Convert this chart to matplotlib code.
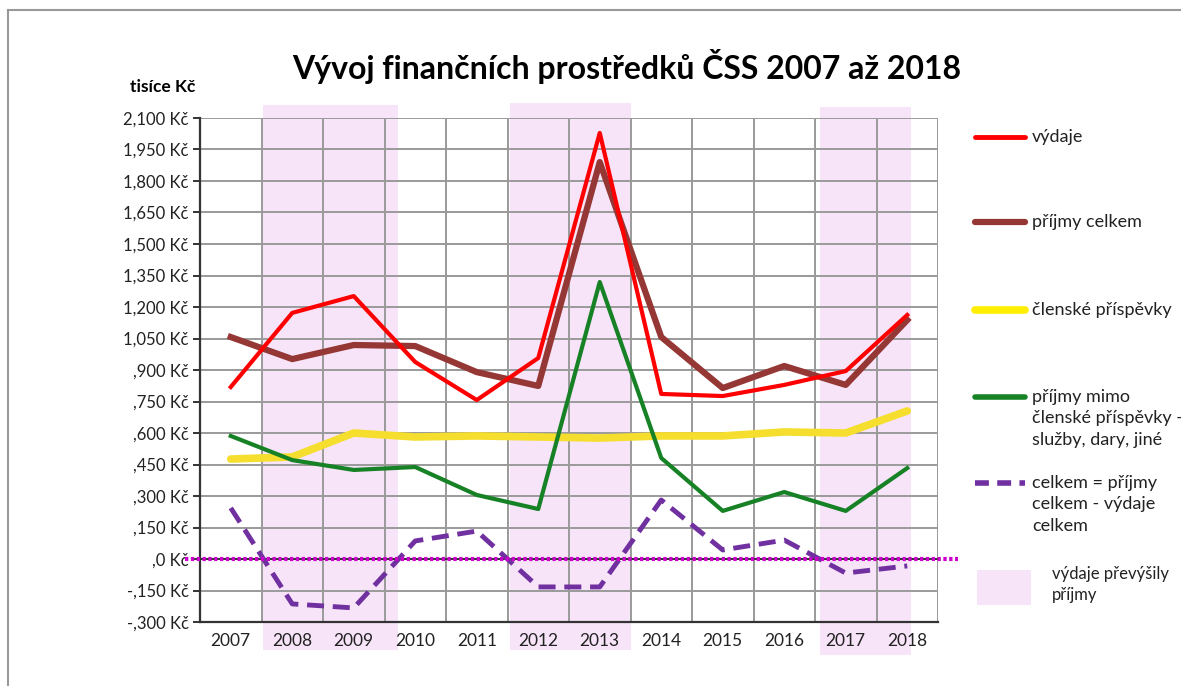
import matplotlib
matplotlib.use("Agg")
import matplotlib.pyplot as plt
from matplotlib.lines import Line2D
from matplotlib.patches import Rectangle
from matplotlib.transforms import blended_transform_factory

plt.rcParams['font.family'] = ['Lato', 'DejaVu Sans']

# Data (thousands of CZK)
years = ['2007', '2008', '2009', '2010', '2011', '2012',
         '2013', '2014', '2015', '2016', '2017', '2018']
vydaje = [819, 1172, 1252, 938, 757, 957, 2029, 786, 776, 829, 895, 1162]
prijmy_celkem = [1057, 952, 1019, 1014, 890, 824, 1890, 1057, 814, 919, 829, 1138]
clenske = [476, 486, 600, 581, 586, 581, 576, 586, 586, 605, 600, 705]
prijmy_mimo = [586, 471, 424, 438, 305, 238, 1319, 481, 229, 319, 229, 433]
celkem = [243, -214, -233, 86, 133, -133, -133, 281, 43, 90, -67, -33]
ytick_vals = list(range(-300, 2101, 150))
ytick_labels = ['-,300 Kč', '-,150 Kč', ',0 Kč', ',150 Kč', ',300 Kč', ',450 Kč',
                ',600 Kč', ',750 Kč', ',900 Kč', '1,050 Kč', '1,200 Kč', '1,350 Kč',
                '1,500 Kč', '1,650 Kč', '1,800 Kč', '1,950 Kč', '2,100 Kč']
# periods where expenses exceeded income (start, end as category positions)
shaded = [(0.52, 2.72, 0.052, 0.847), (4.54, 6.51, 0.052, 0.850), (9.58, 11.06, 0.045, 0.844)]

shade_col = '#f7e4f8'
W, H = 1181, 686
fig = plt.figure(figsize=(W / 100, H / 100), dpi=100)
ax = fig.add_axes([200 / W, 1 - 622 / H, 738 / W, 504 / H])
ax.set_facecolor('none')

x = list(range(len(years)))
ax.set_xlim(-0.5, len(years) - 0.5)
ax.set_ylim(-300, 2100)

trans = blended_transform_factory(ax.transData, fig.transFigure)
for x0, x1, y0, y1 in shaded:
    ax.add_patch(Rectangle((x0, y0), x1 - x0, y1 - y0, transform=trans,
                           facecolor=shade_col, edgecolor='none',
                           zorder=0, clip_on=False))

# grid
for b in range(len(years) + 1):
    ax.axvline(b - 0.5, color='#9a9a9a', lw=1.4, zorder=1)
for v in ytick_vals:
    ax.axhline(v, color='#9a9a9a', lw=1.4, zorder=1)
ax.axhline(0, color='#333333', lw=1.4, zorder=1.5)

ax.plot(x, vydaje, color='#ff0000', lw=3, zorder=4)
ax.plot(x, prijmy_celkem, color='#953735', lw=4.5, zorder=3)
ax.plot(x, clenske, color='#f5de2e', lw=5.5, zorder=3, solid_capstyle='round')
ax.plot(x, prijmy_mimo, color='#178225', lw=3, zorder=3)
ax.plot(x, celkem, color='#7030a0', lw=3.5, dashes=(3.5, 1.8), zorder=3)
ax.axhline(0, xmin=-0.02, xmax=1.027, color='#cc00cc', lw=3,
           linestyle=(0, (0.8, 0.6)), zorder=5, clip_on=False)

ax.set_xticks(x)
ax.set_xticklabels(years, fontsize=12.5, color='#222222')
ax.tick_params(axis='x', length=0, pad=8)
ax.set_yticks(ytick_vals)
ax.set_yticklabels(ytick_labels, fontsize=12, color='#222222')
ax.tick_params(axis='y', length=5, width=1.4, color='#333333', pad=3)
for s in ['top', 'right']:
    ax.spines[s].set_visible(False)
for s in ['left', 'bottom']:
    ax.spines[s].set_color('#333333')
    ax.spines[s].set_linewidth(1.6)

fig.text(627 / W, 1 - 66 / H, 'Vývoj finančních prostředků ČSS 2007 až 2018',
         fontsize=23, fontweight='bold', ha='center', va='center')
fig.text(130 / W, 1 - 87 / H, 'tisíce Kč', fontsize=12.5, fontweight='bold',
         ha='left', va='center')

# legend (manual)
def legend_line(y, color, lw, text, dashes=None):
    ln = Line2D([975 / W, 1025 / W], [1 - y / H, 1 - y / H], transform=fig.transFigure,
                color=color, lw=lw, solid_capstyle='round')
    if dashes:
        ln.set_dashes(dashes)
    fig.add_artist(ln)
    fig.text(1032 / W, 1 - (y - 8) / H, text, fontsize=13, ha='left', va='top',
             linespacing=1.42, color='#222222')

legend_line(137, '#ff0000', 3.5, 'výdaje')
legend_line(222, '#953735', 4.5, 'příjmy celkem')
legend_line(310, '#ffee00', 5.5, 'členské příspěvky')
legend_line(397, '#178225', 4, 'příjmy mimo\nčlenské příspěvky -\nslužby, dary, jiné')
legend_line(483, '#7030a0', 4, 'celkem = příjmy\ncelkem - výdaje\ncelkem', dashes=(2.5, 1.5))
fig.add_artist(Rectangle((977 / W, 1 - 605 / H), 54 / W, 35 / H, transform=fig.transFigure,
                         facecolor=shade_col, edgecolor='none'))
fig.text(1052 / W, 1 - 566 / H, 'výdaje převýšily\npříjmy', fontsize=12, ha='left',
         va='top', linespacing=1.35, color='#222222')

# chart border
fig.add_artist(Line2D([8 / W, 8 / W], [0, 1 - 10 / H], transform=fig.transFigure,
                      color='#999999', lw=1.5))
fig.add_artist(Line2D([8 / W, 1], [1 - 10 / H, 1 - 10 / H], transform=fig.transFigure,
                      color='#999999', lw=1.5))

fig.savefig('out.png', dpi=100)
